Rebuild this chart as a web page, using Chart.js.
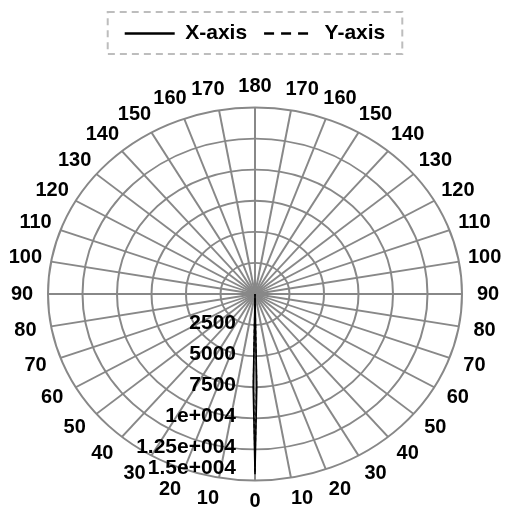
<!DOCTYPE html>
<html>
<head>
<meta charset="utf-8">
<script src="https://cdn.jsdelivr.net/npm/chart.js@4.4.1/dist/chart.umd.min.js"></script>
<style>
  html, body { margin: 0; padding: 0; background: #fff; }
</style>
</head>
<body>
<canvas id="polar-chart" width="506" height="516"></canvas>
<script>
// Angle labels every 10 degrees, going clockwise from the bottom
const angleTickLabels = [
  "0", "10", "20", "30", "40", "50", "60", "70", "80", "90",
  "100", "110", "120", "130", "140", "150", "160", "170", "180",
  "170", "160", "150", "140", "130", "120", "110", "100", "90",
  "80", "70", "60", "50", "40", "30", "20", "10",
];

// Radial ticks
const radialTickValues = [2500, 5000, 7500, 10000, 12500, 15000];
const radialTickLabels = ["2500", "5000", "7500", "1e+004", "1.25e+004", "1.5e+004"];

// Main lobe around 0 deg (1 deg steps), nothing visible elsewhere
const lobeOffsets = [-1, 0, 1];
const xAxisLobe = [7500, 14500, 7500];
const yAxisLobe = [6800, 14300, 6800];

const degrees = Array.from({ length: 360 }, (_, i) => i);

function fullTurn(lobe) {
  return degrees.map((d) => {
    const k = lobeOffsets.indexOf(d > 180 ? d - 360 : d);
    return k === -1 ? 0 : lobe[k];
  });
}

const GRID = "#888888";
const FONT = '"Liberation Sans", Arial, sans-serif';
const SQUASH = 186.5 / 207; // plot is an ellipse, flatter than wide

function squash(ctx, cy) {
  ctx.translate(0, cy);
  ctx.scale(1, SQUASH);
  ctx.translate(0, -cy);
}

// radial scale drawn as an ellipse, labels kept upright
class EllipseRadialScale extends Chart.RadialLinearScale {
  drawGrid() {
    const ctx = this.ctx;
    ctx.save();
    squash(ctx, this.yCenter);
    super.drawGrid();
    ctx.restore();
  }

  drawLabels() {
    const ctx = this.ctx;
    ctx.save();
    ctx.fillStyle = "#000";
    ctx.textBaseline = "middle";

    // radial values, in a column left of the 0 deg spoke
    ctx.font = "bold 21px " + FONT;
    ctx.textAlign = "right";
    const outer = this.yCenter + this.drawingArea * SQUASH;
    this.ticks.forEach((tick) => {
      if (!tick.label) return;
      const d = this.getDistanceFromCenterForValue(tick.value);
      const y = Math.min(this.yCenter + d * SQUASH - 2, outer - 12);
      ctx.fillText(tick.label, this.xCenter - 19, y);
    });

    // angle labels
    ctx.font = "bold 20px " + FONT;
    ctx.textAlign = "center";
    const step = this._pointLabels.length / angleTickLabels.length;
    angleTickLabels.forEach((text, j) => {
      const p = this.getPointPosition(j * step, this.drawingArea + 18);
      const dx = p.x - this.xCenter;
      const dy = p.y - this.yCenter;
      const len = Math.hypot(dx, dy);
      const side = Math.abs(dx) < 1 ? 0 : Math.sign(dx);
      ctx.fillText(text, p.x + side * 8, this.yCenter + dy * SQUASH + (dy / len) * 5);
    });
    ctx.restore();
  }
}
EllipseRadialScale.id = "ellipseRadial";
Chart.register(EllipseRadialScale);

const squashDatasets = {
  id: "squashDatasets",
  beforeDatasetsDraw(chart) {
    chart.ctx.save();
    squash(chart.ctx, chart.scales.r.yCenter);
  },
  afterDatasetsDraw(chart) {
    chart.ctx.restore();
  },
};

// dashed frame round the legend, plus some room under it
const legendFrame = {
  id: "legendFrame",
  beforeInit(chart) {
    const fit = chart.legend.fit;
    chart.legend.fit = function () {
      fit.call(this);
      this.height += 18;
    };
  },
  afterDraw(chart) {
    const legend = chart.legend;
    const first = legend.legendHitBoxes[0];
    const pad = legend.options.labels.padding;
    const ctx = chart.ctx;
    ctx.save();
    ctx.strokeStyle = "#bdbdbd";
    ctx.lineWidth = 2;
    ctx.setLineDash([7, 5]);
    ctx.strokeRect(first.left - pad, first.top - 11, legend.lineWidths[0] + pad, first.height + 21);
    ctx.restore();
  },
};

const legendDash = [[], [10, 7]];

new Chart(document.getElementById("polar-chart"), {
  type: "radar",
  data: {
    labels: degrees,
    datasets: [
      {
        label: "X-axis",
        data: fullTurn(xAxisLobe),
        borderColor: "#000",
        borderWidth: 1.5,
        pointRadius: 0,
        fill: false,
      },
      {
        label: "Y-axis",
        data: fullTurn(yAxisLobe),
        borderColor: "#000",
        borderWidth: 1.2,
        borderDash: [4, 3],
        pointRadius: 0,
        fill: false,
      },
    ],
  },
  options: {
    responsive: false,
    animation: false,
    layout: { padding: { left: 48, right: 44, top: 6, bottom: 0 } },
    scales: {
      r: {
        type: "ellipseRadial",
        startAngle: 180,
        min: 0,
        max: 15000,
        ticks: {
          display: false,
          stepSize: 2500,
          callback: (v) => radialTickLabels[radialTickValues.indexOf(v)] || "",
        },
        grid: { circular: true, color: GRID, lineWidth: 2 },
        angleLines: {
          color: GRID,
          lineWidth: (c) => (c.index % 10 === 0 ? 2 : 0),
        },
        pointLabels: { display: false },
      },
    },
    plugins: {
      legend: {
        position: "top",
        labels: {
          usePointStyle: true,
          pointStyle: "line",
          pointStyleWidth: 50,
          padding: 17,
          color: "#000",
          font: { family: FONT, size: 21, weight: "bold" },
          generateLabels: (chart) =>
            Chart.defaults.plugins.legend.labels.generateLabels(chart).map((item, i) => ({
              ...item,
              lineWidth: 2.5,
              lineDash: legendDash[i],
              strokeStyle: "#000",
            })),
        },
      },
      tooltip: { enabled: false },
    },
  },
  plugins: [squashDatasets, legendFrame],
});
</script>
</body>
</html>
